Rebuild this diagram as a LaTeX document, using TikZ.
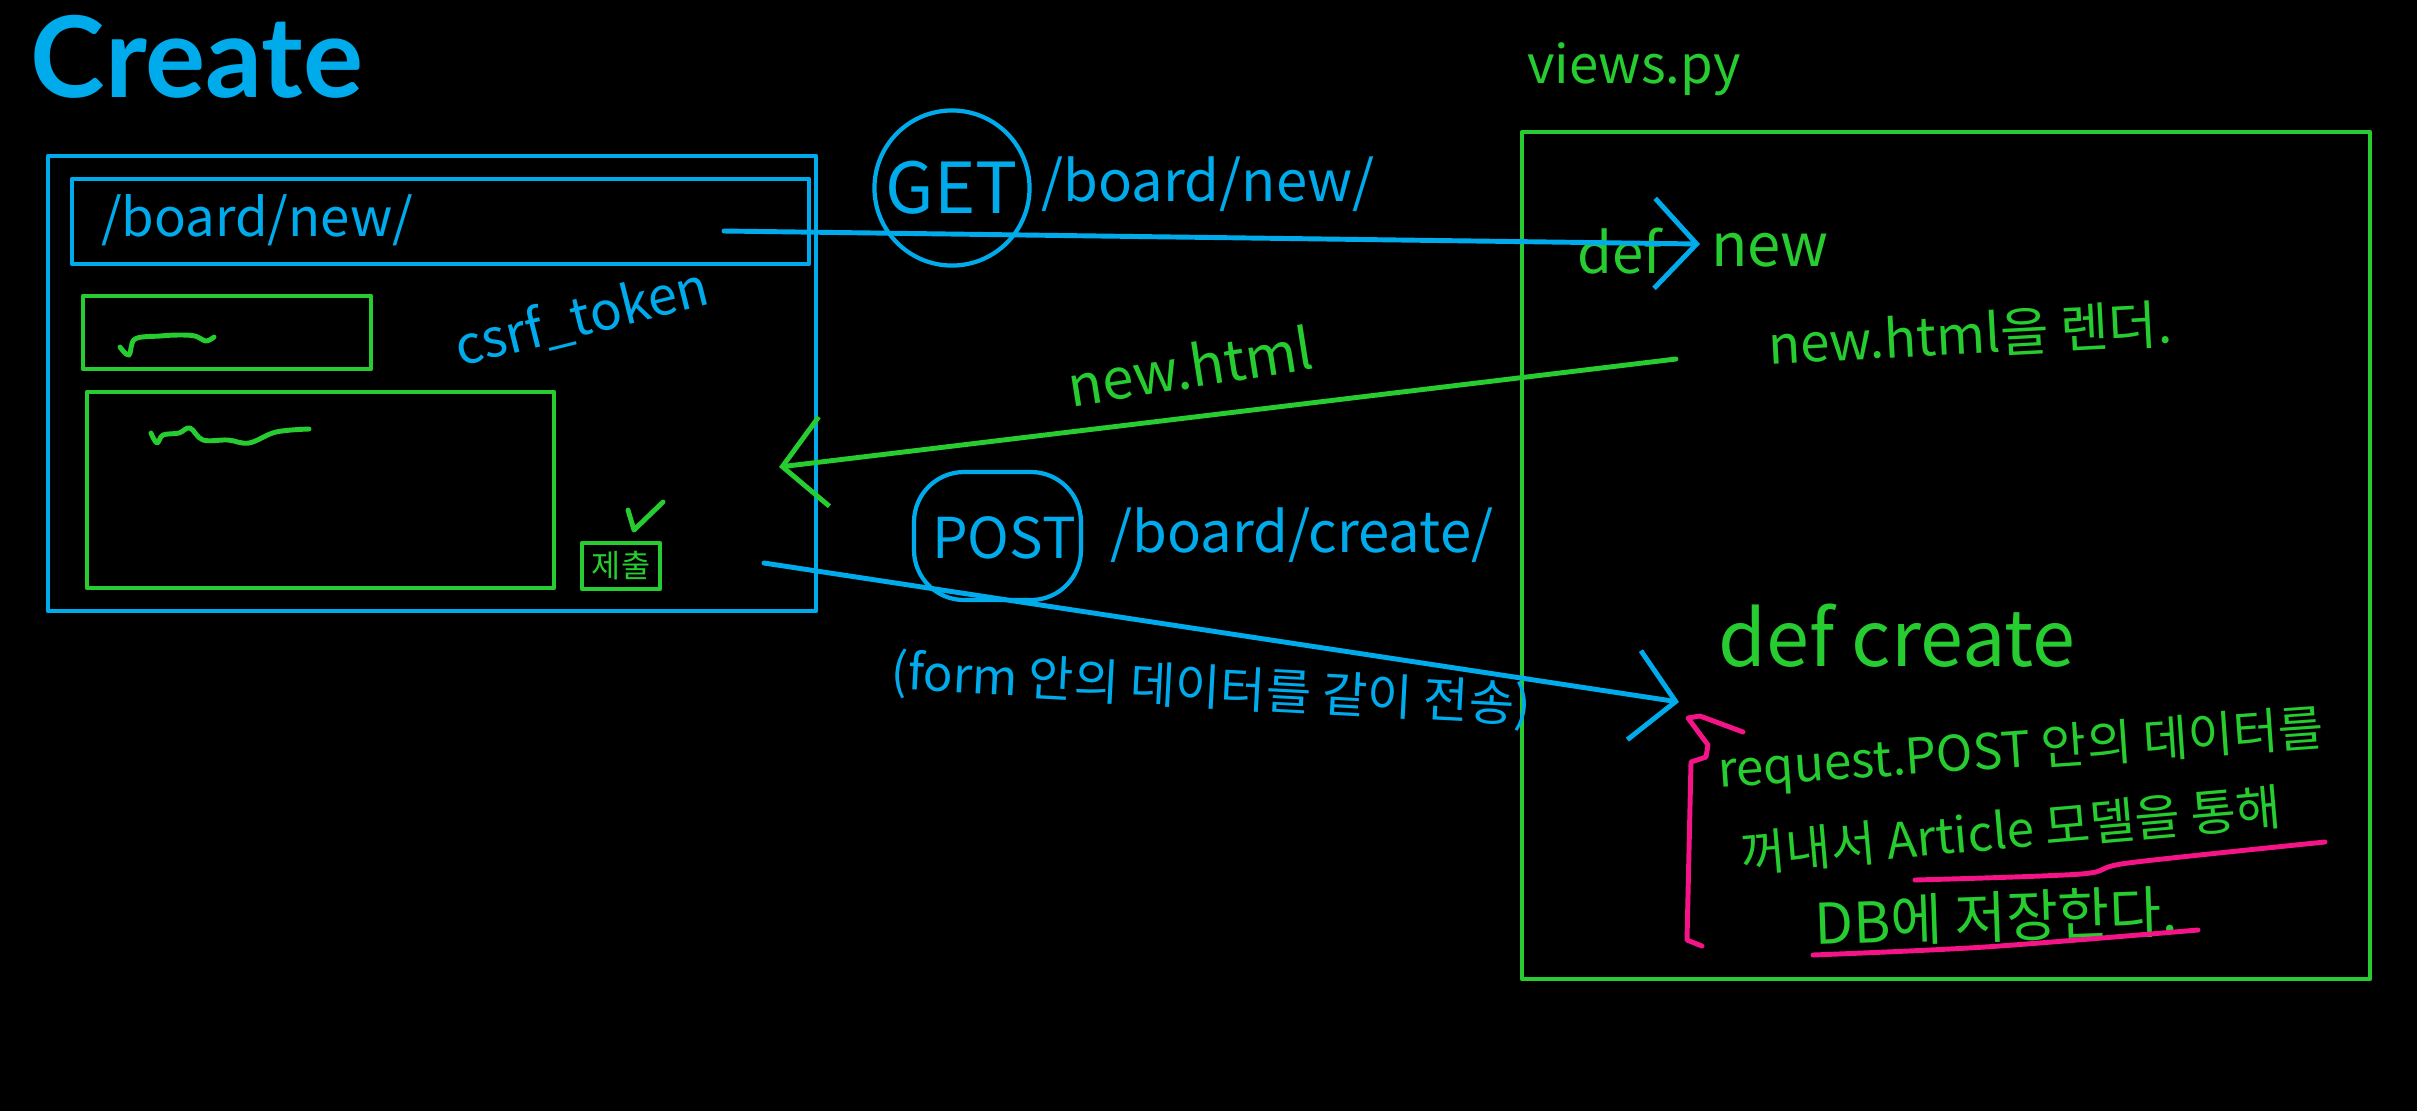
\documentclass[tikz,border=0pt]{standalone}
\usepackage{fontspec}
\setmainfont{Noto Sans CJK KR}
\newfontfamily\titlefont{Lato}
\usetikzlibrary{arrows.meta}

\definecolor{bluu}{RGB}{0, 171, 236}
\definecolor{greeh}{RGB}{38, 204, 48}
\definecolor{pinq}{RGB}{245, 20, 135}
\newcommand{\scrib}[1]{\fontsize{#1}{#1}\selectfont}

\begin{document}
\begin{tikzpicture}[x=0.01cm, y=-0.01cm,
  box/.style={line width=1.2pt, line join=round},
  pen/.style={line width=1.4pt, line cap=round, line join=round},
  chev/.style={-{Straight Barb[length=0.42cm, width=0.9cm]}},
  bluetxt/.style={text=bluu, inner sep=0pt},
  greentxt/.style={text=greeh, inner sep=0pt}]
  \fill[black] (0,0) rectangle (2417,1111);
  \useasboundingbox (0,0) rectangle (2417,1111);

  \coordinate (B1) at (48,156);
  \coordinate (B2) at (816,611);
  \coordinate (U1) at (72,179);
  \coordinate (U2) at (809,264);
  \coordinate (T1) at (83,296);
  \coordinate (T2) at (371,369);
  \coordinate (C1) at (87,392);
  \coordinate (C2) at (554,588);
  \coordinate (S1) at (582,543);
  \coordinate (S2) at (660,589);
  \coordinate (V1) at (1522,132);
  \coordinate (V2) at (2370,979);
  \coordinate (P1) at (914,472);
  \coordinate (P2) at (1081,600);

  \draw[box, bluu] (B1) rectangle (B2);
  \draw[box, bluu] (U1) rectangle (U2);
  \draw[box, greeh] (T1) rectangle (T2);
  \draw[box, greeh] (C1) rectangle (C2);
  \draw[box, greeh] (S1) rectangle (S2);
  \draw[box, greeh] (V1) rectangle (V2);

  \draw[pen, greeh] plot[smooth, tension=0.6] coordinates {(120,347) (129,355) (135,339) (160,336) (179,335) (195,336) (206,341) (214,337)};
  \draw[pen, greeh] plot[smooth, tension=0.6] coordinates {(151,433) (157,443) (163,435) (179,433) (190,428) (203,440) (228,440) (249,443) (276,432) (309,429)};
  \draw[pen, greeh] (628,510) -- (634,530) -- (663,502);

  \node[text=bluu, inner sep=0pt, anchor=base west, font=\titlefont\bfseries\scrib{32}] (title) at (30,97) {Create};
  \node[bluetxt, font=\scrib{15}] (url) at (257,220) {/board/new/};
  \node[greentxt, font=\scrib{9}] (submit) at (621,566) {제출};
  \node[bluetxt, font=\scrib{15}, rotate=14] (csrf) at (582,318) {csrf\_token};

  \node[bluetxt, font=\scrib{20}, draw=bluu, box, circle, minimum size=1.55cm] (get) at (952,188) {GET};
  \node[bluetxt, font=\scrib{16}] (getpath) at (1208,184) {/board/new/};
  \node[greentxt, font=\scrib{16}, rotate=9] (html) at (1190,366) {new.html};
  \node[bluetxt, font=\scrib{16}] (post) at (1004,538) {POST};
  \draw[box, bluu, rounded corners=0.5cm] (P1) rectangle (P2);
  \node[bluetxt, font=\scrib{16}] (postpath) at (1302,535) {/board/create/};
  \node[bluetxt, font=\scrib{14}, rotate=-3] (form) at (1211,690) {(form 안의 데이터를 같이 전송)};

  \node[greentxt, font=\scrib{15}] (views) at (1634,69) {views.py};
  \node[greentxt, font=\scrib{16}] (def) at (1620,251) {def};
  \node[greentxt, font=\scrib{17}] (new) at (1770,250) {new};
  \node[greentxt, font=\scrib{15}, rotate=3] (render) at (1970,334) {new.html을 렌더.};
  \node[greentxt, font=\scrib{22}] (create) at (1897,636) {def create};
  \node[greentxt, font=\scrib{14}, rotate=4] (line1) at (2021,752) {request.POST 안의 데이터를};
  \node[greentxt, font=\scrib{14}, rotate=5] (line2) at (2011,830) {꺼내서 Article 모델을 통해};
  \node[greentxt, font=\scrib{16}, rotate=2] (line3) at (1996,917) {DB에 저장한다.};

  \coordinate (getfrom) at (724,231);
  \coordinate (getto) at (1700,244);
  \coordinate (htmlfrom) at (1676,359);
  \coordinate (htmlto) at (779,467);
  \coordinate (postfrom) at (764,563);
  \coordinate (postto) at (1679,702);
  \draw[pen, bluu, chev] (getfrom) -- (getto);
  \draw[pen, greeh, chev] (htmlfrom) -- (htmlto);
  \draw[pen, bluu, chev] (postfrom) -- (postto);

  \draw[pen, pinq] (1743,732) -- (1700,716) -- (1688,718) -- (1708,745) -- (1706,757) -- (1691,762) -- (1687,940) -- (1702,946);
  \draw[pen, pinq] plot[smooth] coordinates {(1915,880) (2081,874) (2128,863) (2325,842)};
  \draw[pen, pinq] plot[smooth] coordinates {(1813,955) (1985,947) (2198,930)};
\end{tikzpicture}
\end{document}
